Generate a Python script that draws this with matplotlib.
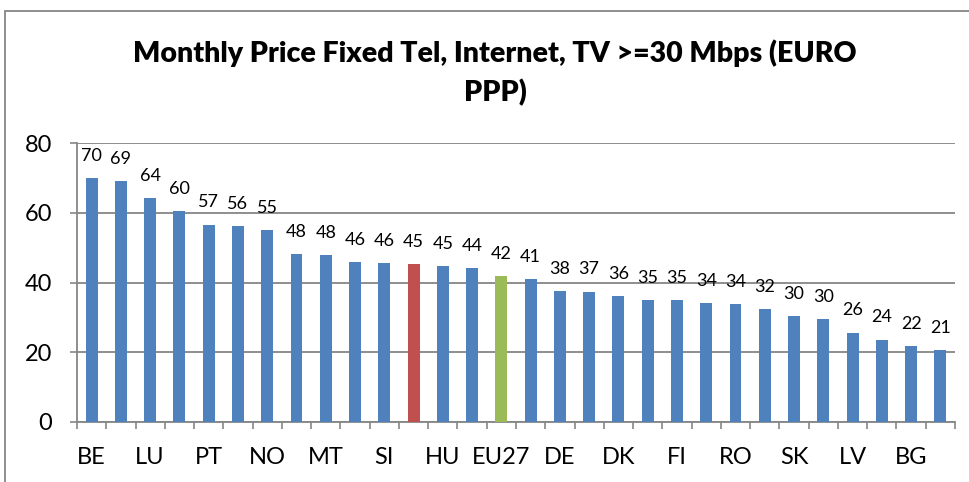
import numpy as np
import matplotlib
matplotlib.use("Agg")
import matplotlib.pyplot as plt
from matplotlib.patches import Rectangle

# data
countries = ["BE", "", "LU", "", "PT", "", "NO", "", "MT", "", "SI", "",
             "HU", "", "EU27", "", "DE", "", "DK", "", "FI", "", "RO", "",
             "SK", "", "LV", "", "BG", ""]
prices = [69.9, 69.1, 64.2, 60.4, 56.6, 56.2, 55.0, 48.1, 47.9, 45.9,
          45.6, 45.3, 44.8, 44.2, 41.9, 40.9, 37.6, 37.4, 36.2, 35.0,
          35.0, 34.1, 33.7, 32.4, 30.4, 29.6, 25.6, 23.6, 21.8, 20.7]
highlight = {11: "#C0504D", 14: "#9BBB59"}

plt.rcParams['font.family'] = ['Lato', 'DejaVu Sans']

fig = plt.figure(figsize=(9.7, 4.82), dpi=100)
ax = fig.add_axes([77/970, 1 - 422/482, (955 - 77)/970, (422 - 143)/482])

x = np.arange(len(prices))
cols = [highlight.get(i, "#4F81BD") for i in x]
bars = ax.bar(x, prices, width=0.41, color=cols, zorder=3)

for xi, v in zip(x, prices):
    ax.annotate(f"{v:.0f}", (xi, v), xytext=(0, 16), textcoords="offset points",
                ha="center", va="center", fontsize=13)

ax.set_xlim(-0.5, len(prices) - 0.5)
ax.set_ylim(0, 80)
ax.set_yticks([0, 20, 40, 60, 80])
ax.tick_params(axis="y", labelsize=17, length=5, color="#868686", width=1.2, pad=13)
ax.yaxis.grid(True, color="#868686", linewidth=1.3, zorder=0)

ax.set_xticks(x)
ax.set_xticklabels(countries)
ax.tick_params(axis="x", which="major", length=0, labelsize=17, pad=18)
ax.set_xticks(np.arange(-0.5, len(prices)), minor=True)
ax.tick_params(axis="x", which="minor", length=5, color="#868686", width=1.2)

for s in ["top", "right"]:
    ax.spines[s].set_visible(False)
for s in ["left", "bottom"]:
    ax.spines[s].set_color("#868686")
    ax.spines[s].set_linewidth(1.3)

fig.text(495/970, 1 - 53/482, "Monthly Price Fixed Tel, Internet, TV >=30 Mbps (EURO",
         ha="center", va="center", fontsize=20.5, fontweight="heavy")
fig.text(495/970, 1 - 93/482, "PPP)", ha="center", va="center",
         fontsize=20.5, fontweight="heavy")

fig.patches.append(Rectangle((5/970, -0.2), 1.2, 1.2 - 11/482, transform=fig.transFigure,
                             fill=False, edgecolor="#868686", linewidth=1.3))

fig.savefig("out.png", dpi=100)
